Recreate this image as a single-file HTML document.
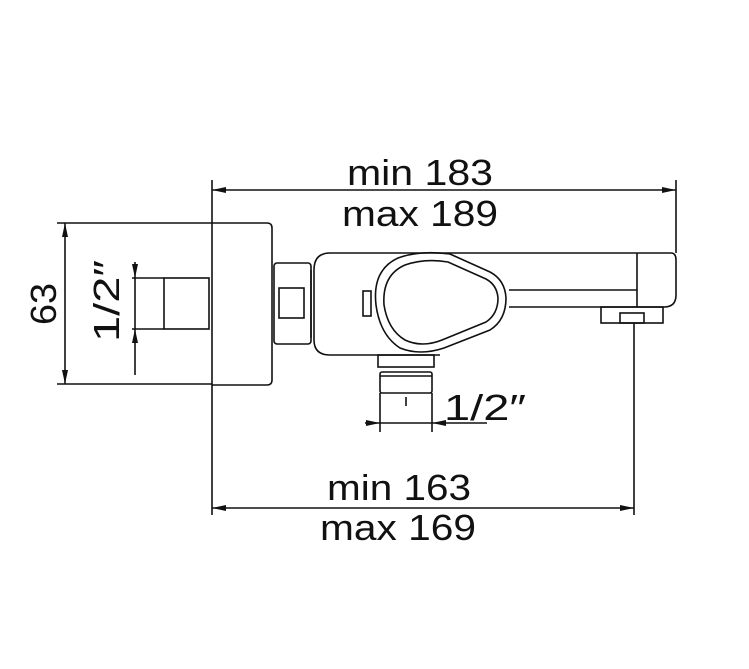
<!DOCTYPE html>
<html><head><style>html,body{margin:0;padding:0;background:#fff}svg{display:block}</style></head><body>
<svg width="749" height="669" viewBox="0 0 749 669" xmlns="http://www.w3.org/2000/svg" font-family="Liberation Sans, sans-serif">
<g fill="none" stroke="#111" stroke-width="1.6">
<!-- rosette -->
<path d="M212,223 H267 Q272,223 272,228 V380 Q272,385 267,385 H212"/>
<line x1="212" y1="180" x2="212" y2="515"/>
<!-- wall stub -->
<rect x="164" y="278" width="45" height="51"/>
<line x1="132" y1="278" x2="164" y2="278"/><line x1="132" y1="329" x2="164" y2="329"/>
<line x1="135" y1="262" x2="135" y2="375"/>
<!-- 63 -->
<line x1="57" y1="223" x2="212" y2="223"/><line x1="57" y1="384" x2="212" y2="384"/>
<line x1="65" y1="223" x2="65" y2="384"/>
<!-- nut -->
<rect x="274" y="263" width="37" height="81" rx="3"/>
<line x1="311" y1="270" x2="311" y2="338"/>
<rect x="279" y="288" width="25" height="30"/>
<!-- body -->
<path d="M330,253 H671 Q676,253 676,260 V295 Q676,307 664,307 H509 M509,290 H637 M637,253 V307 M330,253 Q314,253 314,270 V340 Q314,355 330,355 H440"/>
<rect x="363" y="291" width="8" height="25"/>
<!-- handle -->
<path d="M450,254 Q420,250 398,258 Q372,270 376,305 Q380,335 400,348 Q420,356 444,348 L490,330 Q506,320 506,298 Q505,280 490,272 Z"/>
<path d="M448,262 Q425,258 405,265 Q382,275 384,305 Q388,330 405,340 Q422,348 442,340 L486,322 Q498,314 498,298 Q497,285 486,279 Z"/>
<!-- outlet -->
<rect x="378" y="355" width="56" height="12"/>
<rect x="380" y="372" width="52" height="21" rx="2"/>
<line x1="380" y1="376" x2="432" y2="376"/>
<line x1="406" y1="397" x2="406" y2="406"/>
<line x1="380" y1="393" x2="380" y2="432"/><line x1="432" y1="393" x2="432" y2="432"/>
<line x1="365" y1="423" x2="487" y2="423"/>
<!-- aerator -->
<rect x="601" y="307" width="62" height="16"/>
<rect x="620" y="313" width="24" height="10"/>
<line x1="634" y1="323" x2="634" y2="515"/>
<!-- top dim -->
<line x1="676" y1="180" x2="676" y2="253"/>
<line x1="212" y1="190" x2="676" y2="190"/>
<line x1="212" y1="508" x2="634" y2="508"/>
</g>
<g fill="#111">
<path d="M212,190 l14,-3 v6 z"/><path d="M676,190 l-14,-3 v6 z"/>
<path d="M212,508 l14,-3 v6 z"/><path d="M634,508 l-14,-3 v6 z"/>
<path d="M65,223 l-3,14 h6 z"/><path d="M65,384 l-3,-14 h6 z"/>
<path d="M135,278 l-3,-14 h6 z"/><path d="M135,329 l-3,14 h6 z"/>
<path d="M380,423 l-14,-3 v6 z"/><path d="M432,423 l14,-3 v6 z"/>
</g>
<g fill="#111" font-size="36">
<text x="347" y="185" textLength="146" lengthAdjust="spacingAndGlyphs">min 183</text>
<text x="342" y="226" textLength="156" lengthAdjust="spacingAndGlyphs">max 189</text>
<text x="327" y="500" textLength="144" lengthAdjust="spacingAndGlyphs">min 163</text>
<text x="320" y="540" textLength="156" lengthAdjust="spacingAndGlyphs">max 169</text>
<text x="444" y="420" textLength="82" lengthAdjust="spacingAndGlyphs">1/2″</text>
<text transform="translate(56,325) rotate(-90)" textLength="42" lengthAdjust="spacingAndGlyphs">63</text>
<text transform="translate(119,342) rotate(-90)" textLength="82" lengthAdjust="spacingAndGlyphs">1/2″</text>
</g>
</svg>
</body></html>
